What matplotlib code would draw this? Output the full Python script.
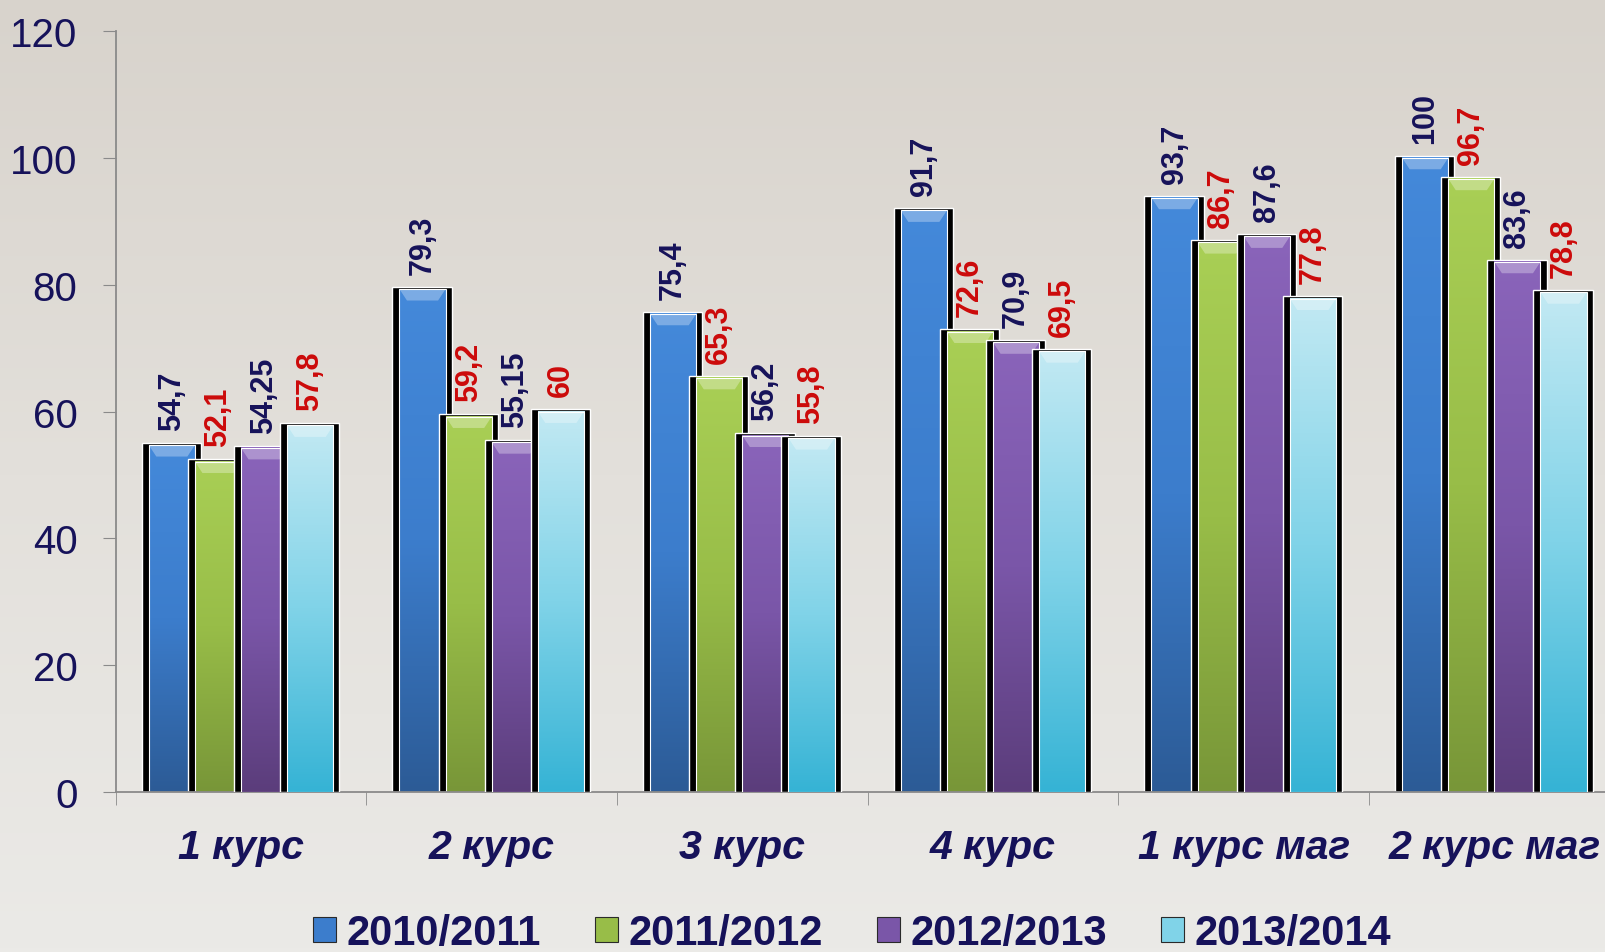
import numpy as np
import matplotlib
matplotlib.use("Agg")
import matplotlib.pyplot as plt
from matplotlib.colors import LinearSegmentedColormap
from matplotlib.patches import Patch, Rectangle, Polygon

categories = ["1 курс", "2 курс", "3 курс", "4 курс", "1 курс маг", "2 курс маг"]
series_names = ["2010/2011", "2011/2012", "2012/2013", "2013/2014"]
v2010 = [54.7, 79.3, 75.4, 91.7, 93.7, 100]
v2011 = [52.1, 59.2, 65.3, 72.6, 86.7, 96.7]
v2012 = [54.25, 55.15, 56.2, 70.9, 87.6, 83.6]
v2013 = [57.8, 60, 55.8, 69.5, 77.8, 78.8]
labels2010 = ["54,7", "79,3", "75,4", "91,7", "93,7", "100"]
labels2011 = ["52,1", "59,2", "65,3", "72,6", "86,7", "96,7"]
labels2012 = ["54,25", "55,15", "56,2", "70,9", "87,6", "83,6"]
labels2013 = ["57,8", "60", "55,8", "69,5", "77,8", "78,8"]
yticks = [0, 20, 40, 60, 80, 100, 120]

series = [v2010, v2011, v2012, v2013]
series_labels = [labels2010, labels2011, labels2012, labels2013]
tops = ["#4489da", "#a9cf55", "#8a64ba", "#c2e9f3"]
bottoms = ["#2c5b96", "#789638", "#5b3d7b", "#35b3d5"]
mids = ["#3c7dcc", "#98bd48", "#7a56a8", "#80d3e8"]
label_colors = ["#16125a", "#cc0a0a", "#16125a", "#cc0a0a"]
navy = "#16125a"

W, H = 1606, 953
fig = plt.figure(figsize=(W / 100, H / 100), dpi=100)

# background gradient
bg = fig.add_axes([0, 0, 1, 1], zorder=-10)
g = np.linspace(0, 1, 256).reshape(-1, 1)
bg_cmap = LinearSegmentedColormap.from_list("bg", ["#d8d3cc", "#e3e0db", "#ebeae7"])
bg.imshow(g, aspect="auto", cmap=bg_cmap, extent=[0, 1, 0, 1], origin="upper")
bg.set_axis_off()

ax = fig.add_axes([115.7 / W, 160 / H, 1504 / W, 761 / H])
ax.patch.set_alpha(0)
n = len(categories)
x = np.arange(n)
bw = 0.184
offsets = (np.arange(4) - 1.5) * bw
grad = np.linspace(1, 0, 256).reshape(-1, 1)

for i, (vals, labs) in enumerate(zip(series, series_labels)):
    cmap = LinearSegmentedColormap.from_list(f"c{i}", [bottoms[i], mids[i], tops[i]])
    for j, v in enumerate(vals):
        x0 = x[j] + offsets[i] - bw / 2
        x1 = x0 + bw
        z = 1 + i
        # shadow block with white rim
        ax.add_patch(Rectangle((x0 - 0.028, 0), bw + 0.052, v + 0.35,
                               facecolor="black", edgecolor="white", linewidth=1.0,
                               zorder=z))
        ax.imshow(grad, extent=[x0, x1, 0, v], aspect="auto", cmap=cmap,
                  zorder=z + 0.1, vmin=0, vmax=1)
        ax.add_patch(Rectangle((x0, 0), bw, v, facecolor="none", edgecolor="white",
                               linewidth=0.8, zorder=z + 0.2))
        # top bevel
        d = 0.03
        ax.add_patch(Polygon([(x0, v), (x1, v), (x1 - d, v - 1.8), (x0 + d, v - 1.8)],
                             closed=True, facecolor="white", alpha=0.3,
                             edgecolor="none", zorder=z + 0.3))
        ax.text(x[j] + offsets[i], v + 2.4, labs[j], rotation=90, ha="center", va="bottom",
                fontsize=22, fontweight="bold", color=label_colors[i],
                family=["Liberation Sans", "DejaVu Sans"], zorder=10)

ax.set_xlim(-0.5, n - 0.5)
ax.set_ylim(0, 120)
ax.set_yticks(yticks)
ax.set_yticklabels([str(t) for t in yticks], fontsize=29, color=navy,
                   family=["Liberation Sans", "DejaVu Sans"])
ax.set_xticks(x)
ax.set_xticklabels(categories, fontsize=29.5, fontweight="bold", style="italic", color=navy,
                   family=["Liberation Sans", "DejaVu Sans"])
ax.set_xticks(np.arange(n + 1) - 0.5, minor=True)
ax.tick_params(axis="x", which="major", length=0, pad=26)
ax.tick_params(axis="x", which="minor", length=9, color="#8a8a8a", direction="out")
ax.tick_params(axis="y", length=9.5, color="#8a8a8a", pad=18)
for s in ["top", "right"]:
    ax.spines[s].set_visible(False)
ax.spines["left"].set_color("#8a8a8a")
ax.spines["bottom"].set_color("#8a8a8a")
ax.spines["left"].set_linewidth(1.3)
ax.spines["bottom"].set_linewidth(1.3)

handles = [Patch(facecolor=mids[i], edgecolor="#2a2a2a", linewidth=0.8) for i in range(4)]
leg = fig.legend(handles, series_names, loc="center", bbox_to_anchor=(852 / W, 1 - 934 / H),
                 ncol=4, frameon=False, handlelength=0.55, handleheight=0.55,
                 handletextpad=0.25, columnspacing=1.3,
                 prop={"family": ["Liberation Sans", "DejaVu Sans"],
                       "weight": "bold", "size": 30})
for t in leg.get_texts():
    t.set_color(navy)

fig.savefig("out.png", dpi=100)
